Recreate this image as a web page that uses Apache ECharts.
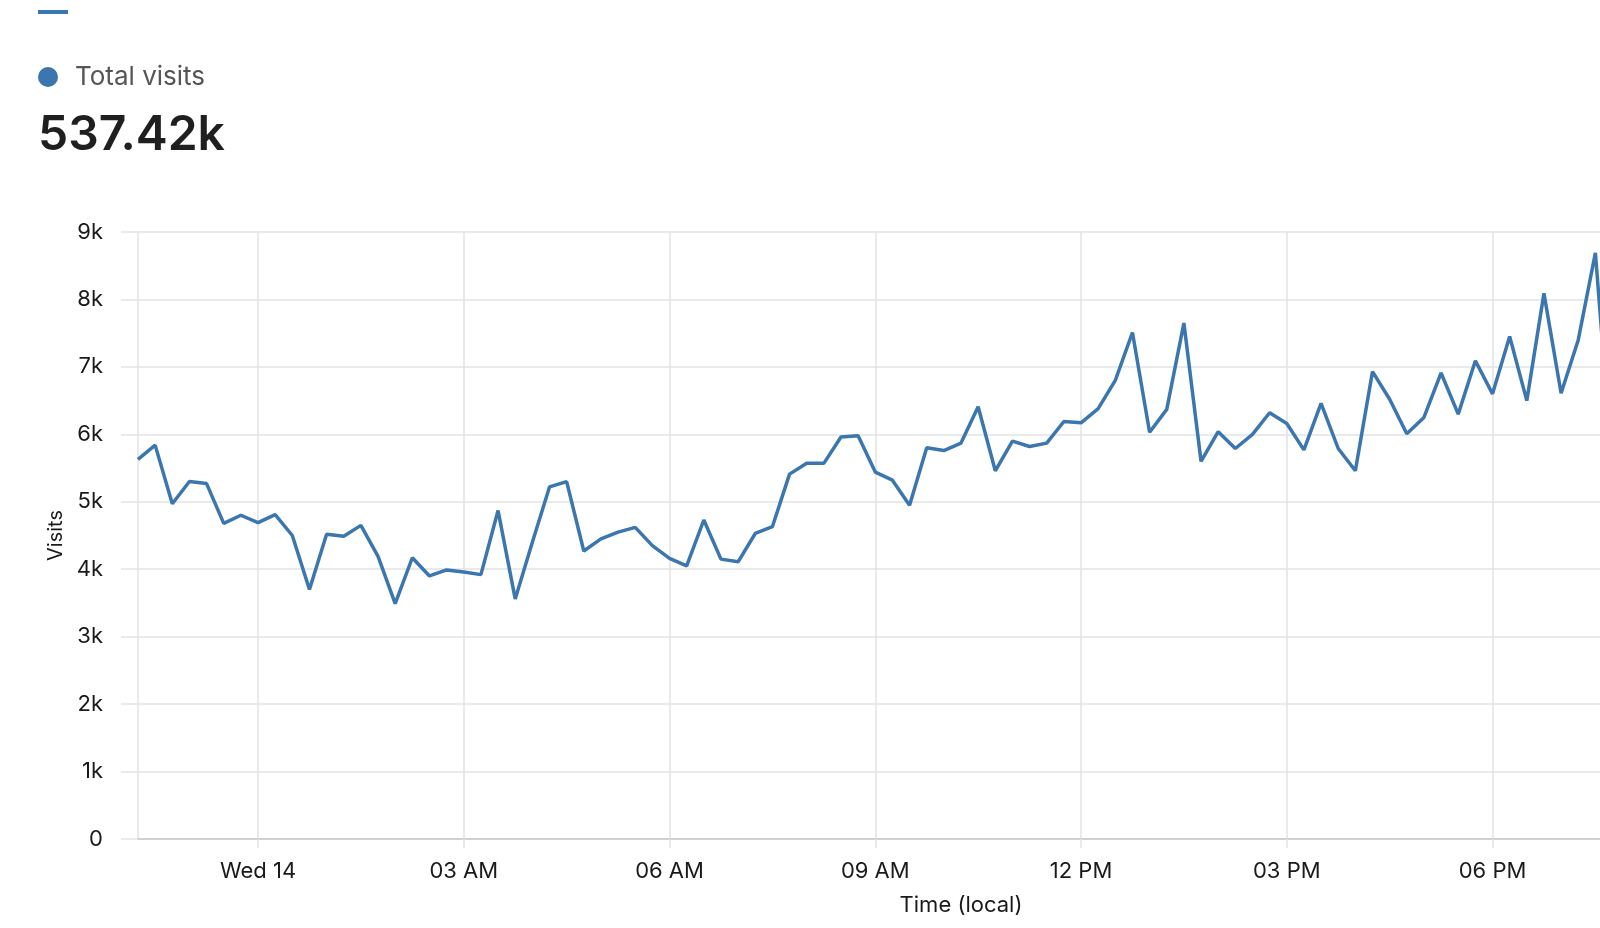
<!DOCTYPE html>
<html>
<head>
<meta charset="utf-8">
<script src="https://cdn.jsdelivr.net/npm/echarts@6/dist/echarts.min.js"></script>
<style>
  html, body { margin: 0; padding: 0; background: #ffffff; }
  #chart { width: 1600px; height: 928px; }
</style>
</head>
<body>
<div id="chart"></div>
<script>
// Visits every 15 minutes, starting Tue 13 22:15
const visits = [
  5630, 5840, 4970, 5300, 5270, 4680, 4800,            // 22:15 - 23:45
  4690, 4810, 4500, 3700, 4520, 4490, 4650, 4190,      // 00:00 - 01:45
  3490, 4170, 3900, 3990, 3960, 3920, 4870, 3560,      // 02:00 - 03:45
  4400, 5220, 5300, 4270, 4450, 4550, 4620, 4350,      // 04:00 - 05:45
  4160, 4050, 4730, 4150, 4110, 4530, 4630, 5410,      // 06:00 - 07:45
  5570, 5570, 5960, 5980, 5440, 5320, 4950, 5800,      // 08:00 - 09:45
  5760, 5870, 6410, 5460, 5900, 5820, 5870, 6190,      // 10:00 - 11:45
  6170, 6380, 6800, 7510, 6030, 6370, 7650, 5600,      // 12:00 - 13:45
  6040, 5790, 6000, 6320, 6160, 5770, 6460, 5790,      // 14:00 - 15:45
  5460, 6930, 6520, 6010, 6250, 6910, 6300, 7090,      // 16:00 - 17:45
  6600, 7450, 6500, 8090, 6610, 7400, 8690, 5450       // 18:00 - 19:45
];
const seriesName = 'Total visits';
const totalLabel = '537.42k';
const tickTimes  = ['00:00', '03:00', '06:00', '09:00', '12:00', '15:00', '18:00', '21:00'];
const tickLabels = ['Wed 14', '03 AM', '06 AM', '09 AM', '12 PM', '03 PM', '06 PM', '09 PM'];
const yTicks = [0, 1000, 2000, 3000, 4000, 5000, 6000, 7000, 8000, 9000];

// 24 hours of 15-minute slots, 22:15 -> 22:15
const categories = [];
for (let i = 0; i <= 96; i++) {
  const m = (22 * 60 + 15 + i * 15) % (24 * 60);
  const hh = String(Math.floor(m / 60)).padStart(2, '0');
  const mm = String(m % 60).padStart(2, '0');
  categories.push(hh + ':' + mm);
}
const isTick = (idx) => tickTimes.indexOf(categories[idx]) >= 0 && idx > 0 && idx < 96;

const FONT = 'Inter, "Noto Sans", sans-serif';
const BLUE = '#3b76af';
const GRID = '#e3e3e3';

const chart = echarts.init(document.getElementById('chart'), null, { renderer: 'canvas' });
chart.setOption({
  animation: false,
  backgroundColor: '#ffffff',
  textStyle: { fontFamily: FONT },
  graphic: [
    { type: 'rect', left: 38, top: 10, shape: { width: 30, height: 4 }, style: { fill: BLUE } },
    { type: 'circle', shape: { cx: 48, cy: 77, r: 10 }, style: { fill: BLUE } },
    { type: 'text', left: 75, top: 64, style: { text: seriesName, font: '400 26px ' + FONT, fill: '#555555' } },
    { type: 'text', left: 38, top: 112, style: { text: totalLabel, font: '600 48px ' + FONT, fill: '#1f1f1f' } }
  ],
  grid: { left: 138, top: 232, bottom: 89, width: 1646, containLabel: false, outerBoundsMode: 'none' },
  xAxis: {
    type: 'category',
    data: categories,
    boundaryGap: false,
    name: 'Time (local)',
    nameLocation: 'middle',
    nameGap: 55,
    nameTextStyle: { fontSize: 22, color: '#1a1a1a', fontFamily: FONT },
    axisLine: { show: true, lineStyle: { color: '#c9c9c9', width: 1.5 } },
    axisTick: {
      show: true, length: 9, alignWithLabel: true,
      interval: (idx) => isTick(idx),
      lineStyle: { color: GRID, width: 1.5 }
    },
    axisLabel: {
      interval: (idx) => isTick(idx),
      formatter: (v) => { const k = tickTimes.indexOf(v); return k >= 0 ? tickLabels[k] : ''; },
      fontSize: 22, color: '#1a1a1a', margin: 21, fontFamily: FONT
    },
    splitLine: {
      show: true,
      interval: (idx) => isTick(idx),
      lineStyle: { color: GRID, width: 1.5 }
    }
  },
  yAxis: {
    type: 'value',
    min: 0, max: 9000, interval: 1000,
    name: 'Visits',
    nameLocation: 'middle',
    nameGap: 70,
    nameTextStyle: { fontSize: 20, color: '#1a1a1a', fontFamily: FONT },
    axisLine: { show: true, lineStyle: { color: GRID, width: 1.5 } },
    axisTick: { show: true, length: 17, lineStyle: { color: GRID, width: 1.5 } },
    axisLabel: {
      fontSize: 22, color: '#1a1a1a', margin: 35, fontFamily: FONT,
      formatter: (v) => yTicks.indexOf(v) >= 0 ? (v === 0 ? '0' : (v / 1000) + 'k') : ''
    },
    splitLine: { show: true, lineStyle: { color: GRID, width: 1.5 } }
  },
  series: [{
    name: seriesName,
    type: 'line',
    data: visits,
    showSymbol: false,
    symbol: 'none',
    clip: true,
    lineStyle: { color: BLUE, width: 3.5 },
    itemStyle: { color: BLUE }
  }]
});
</script>
</body>
</html>
